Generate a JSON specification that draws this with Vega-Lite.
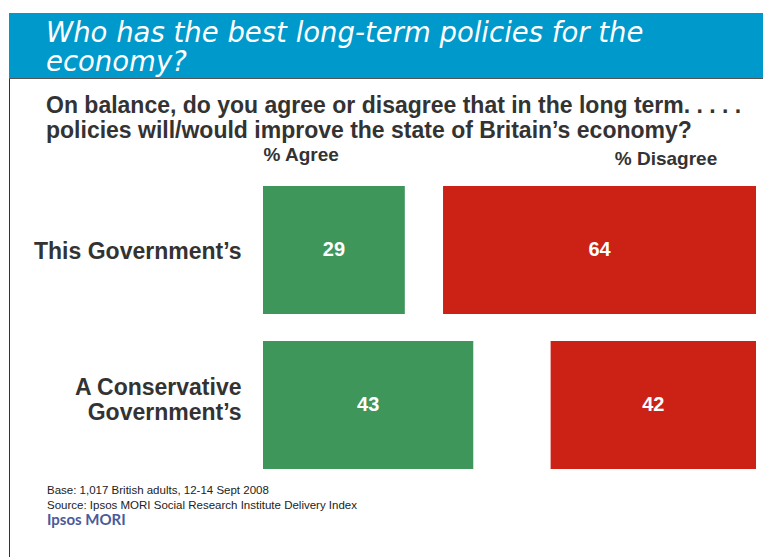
{
  "$schema": "https://vega.github.io/schema/vega-lite/v6.json",
  "background": "white",
  "padding": {"left": 8, "top": 12, "right": 0, "bottom": 0},
  "spacing": 0,
  "bounds": "flush",
  "config": {"view": {"stroke": null}, "font": "Liberation Sans"},
  "vconcat": [
    {
      "width": 755,
      "height": 65,
      "view": {"fill": "#0099cc", "stroke": "#555555", "strokeWidth": 1},
      "title": {
        "text": ["Who has the best long-term policies for the", "economy?"],
        "subtitle": ["On balance, do you agree or disagree that in the long term. . . . .", "policies will/would improve the state of Britain\u2019s economy?"],
        "orient": "bottom",
        "anchor": "start",
        "frame": "group",
        "offset": -58,
        "dx": 37,
        "color": "white",
        "font": "DejaVu Sans",
        "fontStyle": "italic",
        "fontWeight": 200,
        "fontSize": 27.5,
        "lineHeight": 29,
        "subtitleColor": "#333333",
        "subtitleFont": "Liberation Sans",
        "subtitleFontSize": 23,
        "subtitleFontWeight": "bold",
        "subtitleLineHeight": 25,
        "subtitlePadding": 18
      },
      "data": {"values": [{}]},
      "mark": {"type": "rect", "color": "#0099cc"}
    },
    {
      "width": 755,
      "height": 480,
      "view": {"stroke": null},
      "title": {
        "text": ["Base: 1,017 British adults, 12-14 Sept 2008", "Source: Ipsos MORI Social Research Institute Delivery Index"],
        "subtitle": "Ipsos MORI",
        "orient": "bottom",
        "anchor": "start",
        "frame": "group",
        "offset": -73,
        "dx": 38,
        "color": "#222222",
        "font": "Liberation Sans",
        "fontWeight": "normal",
        "fontSize": 11.5,
        "lineHeight": 15,
        "subtitleColor": "#4a5a9a",
        "subtitleFont": "Lato",
        "subtitleFontSize": 15,
        "subtitleFontWeight": "bold",
        "subtitlePadding": 1
      },
      "data": {
        "values": [
          {"group": "This Government\u2019s", "agree": 29, "disagree": 64},
          {"group": "A Conservative Government\u2019s", "agree": 43, "disagree": 42}
        ]
      },
      "encoding": {
        "y": {
          "field": "group",
          "type": "nominal",
          "sort": null,
          "scale": {"paddingInner": 0.1742, "paddingOuter": 0.6355, "align": 0.548},
          "axis": {
            "title": null,
            "domain": true,
            "domainColor": "#333333",
            "domainWidth": 1,
            "ticks": false,
            "tickSize": 0,
            "grid": false,
            "labelPadding": -232,
            "labelAlign": "right",
            "labelBaseline": "middle",
            "labelOffset": {"condition": {"test": "datum.value == 'A Conservative Government\u2019s'", "value": -17}, "value": 2},
            "labelFont": "Liberation Sans",
            "labelFontSize": 23,
            "labelFontWeight": "bold",
            "labelColor": "#333333",
            "labelLimit": 0,
            "labelLineHeight": 25,
            "labelOverlap": false,
            "labelExpr": "datum.label == 'A Conservative Government\u2019s' ? ['A Conservative', 'Government\u2019s'] : datum.label"
          }
        }
      },
      "layer": [
        {
          "mark": {"type": "bar", "color": "#3e965a"},
          "encoding": {
            "x": {
              "field": "agree",
              "type": "quantitative",
              "scale": {"domain": [-51.94, 102.45], "nice": false, "zero": false},
              "axis": {
                "orient": "top",
                "values": [0],
                "labelExpr": "'% Agree'",
                "title": null,
                "domain": false,
                "ticks": false,
                "tickSize": 0,
                "grid": false,
                "labelAlign": "left",
                "labelBaseline": "alphabetic",
                "labelPadding": -82,
                "labelFont": "Liberation Sans",
                "labelFontSize": 19,
                "labelFontWeight": "bold",
                "labelColor": "#333333",
                "labelFlush": false,
                "labelOverlap": false
              }
            },
            "x2": {"datum": 0}
          }
        },
        {
          "mark": {"type": "text", "color": "white", "fontSize": 20, "fontWeight": "bold", "font": "Liberation Sans", "baseline": "middle"},
          "encoding": {
            "x": {
              "field": "agree",
              "type": "quantitative",
              "scale": {"domain": [-103.88, 204.9], "nice": false, "zero": false},
              "axis": null
            },
            "text": {"field": "agree", "type": "quantitative"}
          }
        },
        {
          "mark": {"type": "bar", "color": "#cc2216"},
          "encoding": {
            "x": {
              "field": "disagree",
              "type": "quantitative",
              "scale": {"domain": [-1.636, 152.76], "reverse": true, "nice": false, "zero": false},
              "axis": {
                "orient": "top",
                "values": [18.5],
                "labelExpr": "'% Disagree'",
                "title": null,
                "domain": false,
                "ticks": false,
                "tickSize": 0,
                "grid": false,
                "labelAlign": "center",
                "labelBaseline": "alphabetic",
                "labelPadding": -86,
                "labelFont": "Liberation Sans",
                "labelFontSize": 19,
                "labelFontWeight": "bold",
                "labelColor": "#333333",
                "labelFlush": false,
                "labelOverlap": false
              }
            },
            "x2": {"datum": 0}
          }
        },
        {
          "mark": {"type": "text", "color": "white", "fontSize": 20, "fontWeight": "bold", "font": "Liberation Sans", "baseline": "middle"},
          "encoding": {
            "x": {
              "field": "disagree",
              "type": "quantitative",
              "scale": {"domain": [-3.272, 305.52], "reverse": true, "nice": false, "zero": false},
              "axis": null
            },
            "text": {"field": "disagree", "type": "quantitative"}
          }
        }
      ],
      "resolve": {"scale": {"x": "independent"}, "axis": {"x": "independent"}}
    }
  ]
}
